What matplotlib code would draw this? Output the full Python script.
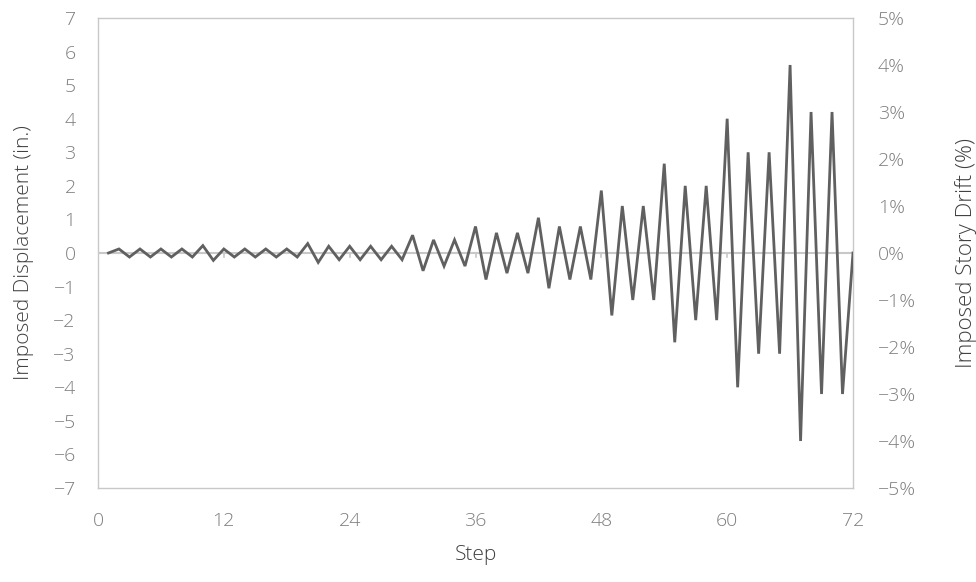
import matplotlib
matplotlib.use('Agg')

import matplotlib.pyplot as plt
from matplotlib.ticker import FuncFormatter

plt.rcParams['font.family'] = ['Open Sans', 'DejaVu Sans']

# loading protocol (step, imposed displacement in inches)
steps = list(range(1, 73))
disp = [
    0.0,
    0.12, -0.12, 0.12, -0.12, 0.12, -0.12, 0.12, -0.12,
    0.22, -0.22,
    0.12, -0.12, 0.12, -0.12, 0.12, -0.12, 0.12, -0.12,
    0.28, -0.28,
    0.20, -0.20, 0.20, -0.20, 0.20, -0.20, 0.20, -0.20,
    0.53, -0.53,
    0.39, -0.39, 0.39, -0.39,
    0.79, -0.79,
    0.60, -0.60, 0.60, -0.60,
    1.05, -1.05,
    0.79, -0.79, 0.79, -0.79,
    1.86, -1.86,
    1.40, -1.40, 1.40, -1.40,
    2.66, -2.66,
    2.00, -2.00, 2.00, -2.00,
    4.00, -4.00,
    3.00, -3.00, 3.00, -3.00,
    5.60, -5.60,
    4.20, -4.20, 4.20, -4.20,
    0.0,
]

x_ticks = [0, 12, 24, 36, 48, 60, 72]
disp_ticks = list(range(-7, 8))
drift_ticks = list(range(-5, 6))

line_col = '#606060'
grid_col = '#c8c8c8'
tick_col = '#7f7f7f'
label_col = '#404040'

fig = plt.figure(figsize=(9.76, 5.82), dpi=100)
ax = fig.add_axes([98 / 976, 1 - 488 / 582, 755 / 976, 470 / 582])

ax.axhline(0, color=grid_col, lw=1.5, zorder=1)
for t in x_ticks[1:-1]:
    ax.plot([t, t], [0, -0.12], color=grid_col, lw=1.2, zorder=1)
ax.plot(steps, disp, color=line_col, lw=2.0, zorder=3, solid_joinstyle='miter')

ax.set_xlim(0, 72)
ax.set_ylim(-7, 7)
ax.set_xticks(x_ticks)
ax.set_yticks(disp_ticks)
for s in ax.spines.values():
    s.set_color(grid_col)
    s.set_linewidth(1.0)
ax.tick_params(axis='both', length=0, labelsize=14, colors=tick_col)
ax.tick_params(axis='x', pad=17)
ax.tick_params(axis='y', pad=16)
for lbl in ax.get_xticklabels() + ax.get_yticklabels():
    lbl.set_fontweight('light')
ax.set_xlabel('Step', fontsize=15, color=label_col, labelpad=11, fontweight='light')
ax.set_ylabel('Imposed Displacement (in.)', fontsize=15, color=label_col,
              labelpad=14, fontweight='light')

ax2 = ax.twinx()
ax2.set_ylim(-5, 5)
ax2.set_yticks(drift_ticks)
ax2.yaxis.set_major_formatter(FuncFormatter(lambda v, p: '%d%%' % v if v >= 0 else '\u2212%d%%' % -v))
ax2.tick_params(axis='y', length=0, labelsize=14, colors=tick_col, pad=18)
for s in ax2.spines.values():
    s.set_visible(False)
for lbl in ax2.get_yticklabels():
    lbl.set_fontweight('light')
ax2.set_ylabel('Imposed Story Drift (%)', fontsize=16, color=label_col,
               labelpad=28, fontweight='light')

fig.savefig('out.png', dpi=100)
